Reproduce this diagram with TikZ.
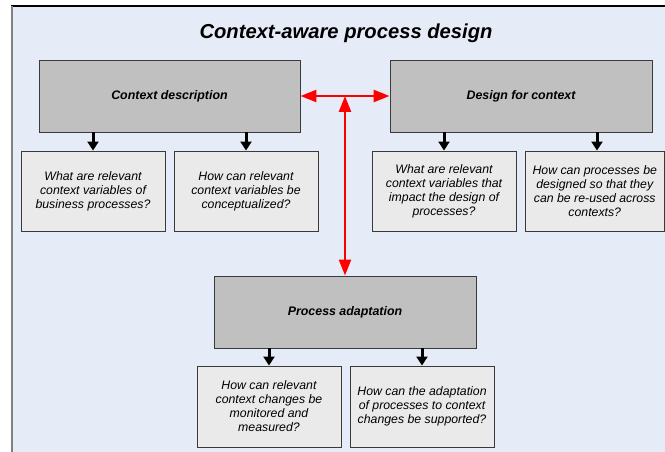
\documentclass[tikz,border=0pt]{standalone}
\usepackage{fontspec}
\setmainfont{Liberation Sans}
\usetikzlibrary{arrows.meta}
\definecolor{bgblue}{HTML}{E6ECF7}
\definecolor{framegray}{HTML}{808080}
\definecolor{headgray}{HTML}{C0C0C0}
\definecolor{qgray}{HTML}{EAEAEA}
\definecolor{edgegray}{HTML}{3A3A3A}
\tikzset{
  headbox/.style={draw=edgegray, line width=0.9pt, fill=headgray, minimum width=261pt, minimum height=72pt,
    inner sep=0pt, font=\fontsize{12.4}{14}\selectfont\bfseries\itshape},
  qbox/.style={draw=edgegray, line width=0.9pt, fill=qgray, minimum width=144pt, minimum height=80pt,
    inner sep=0pt, align=center, font=\fontsize{12.3}{14}\selectfont\itshape},
  downarrow/.style={line width=3pt, -{Triangle[length=9pt,width=11pt]}},
  redarrow/.style={red, line width=2.5pt, {Triangle[length=16pt,width=12pt]}-{Triangle[length=16pt,width=12pt]}}
}
\begin{document}
\begin{tikzpicture}[x=1pt,y=-1pt]
\useasboundingbox (0,0) rectangle (665,452);
\fill[bgblue] (11,6) rectangle (665,452);
\draw[black, line width=1.3pt] (11,6) -- (665,6);
\draw[framegray, line width=1.8pt] (11.9,6) -- (11.9,452);

\node[font=\fontsize{20.2}{24}\selectfont\bfseries\itshape] (title) at (346,33) {Context-aware process design};

\node[headbox] (cd) at (169.5,96) {Context description};
\node[headbox, minimum width=262pt] (dfc) at (521,96) {Design for context};
\node[headbox, minimum width=262pt] (pa) at (345,312) {Process adaptation};

\node[qbox] (q1) at (93,191) {What are relevant\\context variables of\\business processes?};
\node[qbox] (q2) at (246,191) {How can relevant\\context variables be\\conceptualized?};
\node[qbox] (q3) at (444,191) {What are relevant\\context variables that\\impact the design of\\processes?};
\node[qbox, minimum width=139.5pt] (q4) at (594.75,191) {How can processes be\\designed so that they\\can be re-used across\\contexts?};
\node[qbox, minimum height=81pt] (q5) at (269,406.5) {How can relevant\\context changes be\\monitored and\\measured?};
\node[qbox, minimum height=81pt] (q6) at (422,406.5) {How can the adaptation\\of processes to context\\changes be supported?};

\coordinate (q4top) at ([xshift=2.25pt]q4.north);
\draw[downarrow] (cd.south -| q1.north) -- (q1.north);
\draw[downarrow] (cd.south -| q2.north) -- (q2.north);
\draw[downarrow] (dfc.south -| q3.north) -- (q3.north);
\draw[downarrow] (dfc.south -| q4top) -- (q4top);
\draw[downarrow] (pa.south -| q5.north) -- (q5.north);
\draw[downarrow] (pa.south -| q6.north) -- (q6.north);

\coordinate (mid) at (345,96);
\draw[redarrow] (cd.east) -- (dfc.west);
\draw[redarrow] (mid) -- (pa.north);
\end{tikzpicture}
\end{document}
